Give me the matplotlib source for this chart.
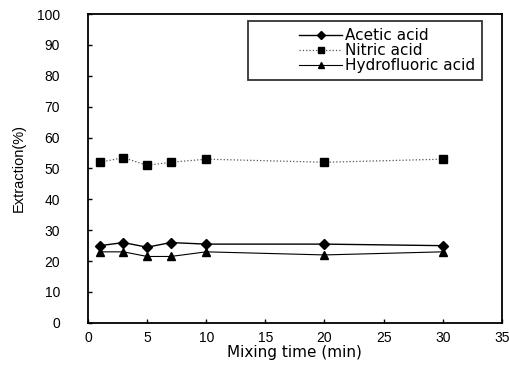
import matplotlib.pyplot as plt
from matplotlib.legend_handler import HandlerLine2D

plt.rcParams['font.family'] = ['Liberation Sans', 'DejaVu Sans']

time_min = [1, 3, 5, 7, 10, 20, 30]
acetic = [25.0, 26.0, 24.5, 26.0, 25.5, 25.5, 25.0]
nitric = [52.0, 53.5, 51.0, 52.0, 53.0, 52.0, 53.0]
hydrofluoric = [23.0, 23.0, 21.5, 21.5, 23.0, 22.0, 23.0]

fig = plt.figure(figsize=(5.1, 3.69), dpi=100)
ax = fig.add_axes([0.1725, 0.125, 0.8115, 0.837])

l1, = ax.plot(time_min, acetic, color='black', linewidth=1.0, marker='D', markersize=5.5,
              label='Acetic acid')
l2, = ax.plot(time_min, nitric, color='#555555', linewidth=0.9, linestyle=':', marker='s',
              markersize=5.5, markerfacecolor='black', markeredgecolor='black',
              label='Nitric acid')
l3, = ax.plot(time_min, hydrofluoric, color='black', linewidth=0.8, marker='^', markersize=6,
              label='Hydrofluoric acid')

ax.set_xlim(0, 35)
ax.set_ylim(0, 100)
ax.set_xticks(range(0, 36, 5))
ax.set_yticks(range(0, 101, 10))
ax.tick_params(direction='in', length=3, width=1, labelsize=10)
ax.tick_params(axis='x', pad=6)
ax.tick_params(axis='y', pad=20)
for s in ax.spines.values():
    s.set_linewidth(1.3)

ax.set_xlabel('Mixing time (min)', fontsize=11, family='DejaVu Sans', labelpad=0)
ax.set_ylabel('Extraction(%)', fontsize=10.5,
              family=['Liberation Sans Narrow', 'Liberation Sans'], labelpad=8)

# handles sit to the right of an empty gap, like the original box
hmap = {h: HandlerLine2D(xpad=2.9) for h in (l1, l2, l3)}
leg = ax.legend(loc='upper right', bbox_to_anchor=(0.952, 0.977),
                prop={'family': 'DejaVu Sans', 'size': 11}, handler_map=hmap,
                frameon=True, fancybox=False, borderpad=0.45, labelspacing=0.0,
                handlelength=5.7, handletextpad=0.2, borderaxespad=0,
                markerscale=0.8)
leg.get_frame().set_edgecolor('black')
leg.get_frame().set_linewidth(1.3)

fig.savefig('out.png', dpi=100)
